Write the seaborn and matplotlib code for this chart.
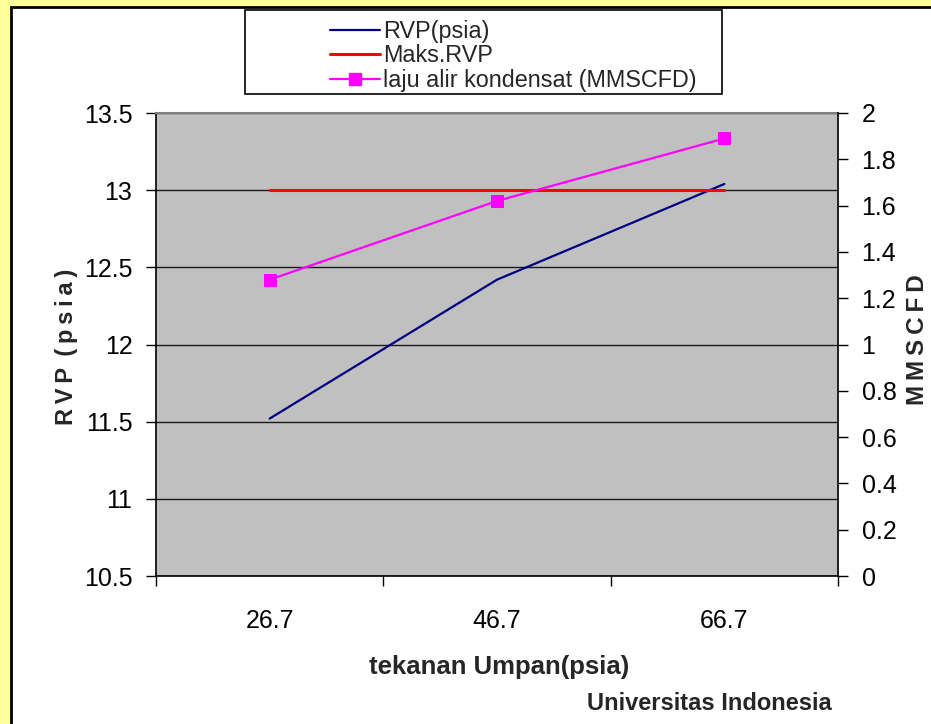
import numpy as np
import pandas as pd
import matplotlib
matplotlib.use("Agg")
import matplotlib.pyplot as plt
import seaborn as sns
from matplotlib.patches import Rectangle
from matplotlib.lines import Line2D

# Feed pressure (psia) and measured results
tekanan = [26.7, 46.7, 66.7]
rvp = [11.52, 12.42, 13.04]
maks_rvp = [13.0, 13.0, 13.0]
laju_kondensat = [1.28, 1.62, 1.89]

rvp_ticks = [10.5, 11, 11.5, 12, 12.5, 13, 13.5]
mmscfd_ticks = [0, 0.2, 0.4, 0.6, 0.8, 1, 1.2, 1.4, 1.6, 1.8, 2]
x_bounds = [16.7, 36.7, 56.7, 76.7]

df = pd.DataFrame({"tekanan": tekanan, "rvp": rvp,
                   "maks": maks_rvp, "laju": laju_kondensat})

sns.set_theme(style="ticks")
plt.rcParams["font.family"] = ["Liberation Sans", "DejaVu Sans"]

W, H = 931, 724
fig = plt.figure(figsize=(W / 100, H / 100), dpi=100)
fig.patch.set_facecolor("#FFFF99")

def fx(px):
    return px / W

def fy(py):
    return 1 - py / H

# white chart panel with black frame
panel = Rectangle((fx(11), -0.1), 1.2, fy(7) + 0.1, transform=fig.transFigure,
                  facecolor="white", edgecolor="black", lw=2, zorder=-1)
fig.patches.append(panel)

# legend frame
lbox = Rectangle((fx(245), fy(94)), fx(722) - fx(245), fy(10) - fy(94),
                 transform=fig.transFigure, facecolor="white",
                 edgecolor="black", lw=1.2, zorder=1)
fig.patches.append(lbox)

ax = fig.add_axes([fx(156), fy(576), fx(838) - fx(156), fy(113) - fy(576)])
ax.set_facecolor("#C0C0C0")

sns.lineplot(data=df, x="tekanan", y="rvp", ax=ax, color="#000080", lw=1.6)
sns.lineplot(data=df, x="tekanan", y="maks", ax=ax, color="#FF0000", lw=2.2)

ax2 = ax.twinx()
sns.lineplot(data=df, x="tekanan", y="laju", ax=ax2, color="#FF00FF", lw=1.6,
             marker="s", markersize=8, markeredgecolor="#FF00FF")

ax.set_xlim(x_bounds[0], x_bounds[-1])
ax.set_ylim(rvp_ticks[0], rvp_ticks[-1])
ax2.set_ylim(mmscfd_ticks[0], mmscfd_ticks[-1])

ax.set_yticks(rvp_ticks)
ax.set_yticklabels([f"{v:g}" for v in rvp_ticks])
ax2.set_yticks(mmscfd_ticks)
ax2.set_yticklabels([f"{v:g}" for v in mmscfd_ticks])
ax.set_xticks(tekanan)
ax.set_xticklabels([f"{v:g}" for v in tekanan])
ax.set_xticks(x_bounds, minor=True)

ax.tick_params(axis="x", which="major", length=0, pad=24, labelsize=18,
               labelcolor="black")
ax.tick_params(axis="x", which="minor", length=7, width=1, color="black",
               direction="out")
ax.tick_params(axis="y", which="major", length=7, width=1, color="black",
               direction="out", pad=10, labelsize=18, labelcolor="black",
               left=True)
ax2.tick_params(axis="y", which="major", length=7, width=1, color="black",
                direction="out", pad=10, labelsize=18, labelcolor="black",
                right=True)

ax.yaxis.grid(True, color="#1a1a1a", lw=1)
ax.set_axisbelow(True)

for s in ("left", "bottom"):
    ax.spines[s].set_color("black")
    ax.spines[s].set_linewidth(1.2)
ax.spines["top"].set_color("#808080")
ax.spines["top"].set_linewidth(1.5)
ax.spines["right"].set_visible(False)
for s in ("top", "left", "bottom"):
    ax2.spines[s].set_visible(False)
ax2.spines["right"].set_color("black")
ax2.spines["right"].set_linewidth(1.2)

ax.set_xlabel("")
ax.set_ylabel("")
ax2.set_ylabel("")

# axis titles
fig.text(fx(66), fy(347), "R\u2009V\u2009P\u2009 (\u2009p\u2009s\u2009i\u2009a\u2009)",
         rotation=90, ha="center", va="center", fontsize=17, fontweight="bold")
fig.text(fx(918), fy(340), "M\u2009M\u2009S\u2009C\u2009F\u2009D",
         rotation=90, ha="center", va="center", fontsize=17.5, fontweight="bold")
fig.text(fx(499), fy(667), "tekanan Umpan(psia)", ha="center", va="center",
         fontsize=18.5, fontweight="bold")
fig.text(fx(832), fy(703), "Universitas Indonesia", ha="right", va="center",
         fontsize=17, fontweight="bold")

handles = [
    Line2D([], [], color="#000080", lw=1.6),
    Line2D([], [], color="#FF0000", lw=2.2),
    Line2D([], [], color="#FF00FF", lw=1.6, marker="s", markersize=8,
           markeredgecolor="#FF00FF"),
]
labels = ["RVP(psia)", "Maks.RVP", "laju alir kondensat (MMSCFD)"]
fig.legend(handles, labels, loc="upper left", bbox_to_anchor=(fx(330), fy(20)),
           frameon=False, fontsize=16.8, handlelength=2.15, handletextpad=0.12,
           labelspacing=0.06, borderpad=0, borderaxespad=0)

fig.savefig("out.png", dpi=100, facecolor=fig.get_facecolor())
